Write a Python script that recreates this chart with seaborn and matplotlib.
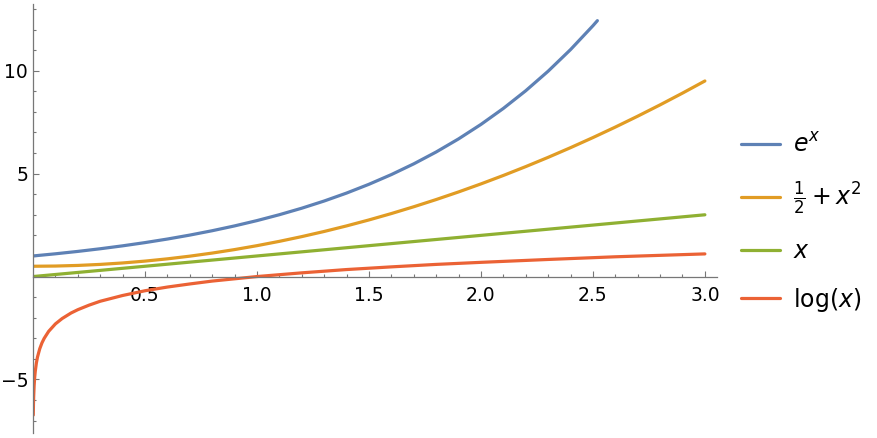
import numpy as np
import pandas as pd
import matplotlib
matplotlib.use("Agg")
import matplotlib.pyplot as plt
from matplotlib.lines import Line2D
from matplotlib.ticker import MultipleLocator, FixedLocator
import seaborn as sns

sns.set_style("white")
plt.rcParams['font.family'] = ['DejaVu Sans']
plt.rcParams['mathtext.fontset'] = 'dejavusans'

# values
exp_x = [0.0, 0.1, 0.2, 0.3, 0.4, 0.5, 0.6, 0.7, 0.8, 0.9, 1.0, 1.1, 1.2, 1.3,
         1.4, 1.5, 1.6, 1.7, 1.8, 1.9, 2.0, 2.1, 2.2, 2.3, 2.4, 2.5, 2.52]
exp_y = [1.00, 1.105, 1.221, 1.350, 1.492, 1.649, 1.822, 2.014, 2.226, 2.460,
         2.718, 3.004, 3.320, 3.669, 4.055, 4.482, 4.953, 5.474, 6.050, 6.686,
         7.389, 8.166, 9.025, 9.974, 11.023, 12.182, 12.43]

quad_x = [0.0, 0.1, 0.2, 0.3, 0.4, 0.5, 0.6, 0.7, 0.8, 0.9, 1.0, 1.1, 1.2, 1.3,
          1.4, 1.5, 1.6, 1.7, 1.8, 1.9, 2.0, 2.1, 2.2, 2.3, 2.4, 2.5, 2.6, 2.7,
          2.8, 2.9, 3.0]
quad_y = [0.50, 0.51, 0.54, 0.59, 0.66, 0.75, 0.86, 0.99, 1.14, 1.31, 1.50,
          1.71, 1.94, 2.19, 2.46, 2.75, 3.06, 3.39, 3.74, 4.11, 4.50, 4.91,
          5.34, 5.79, 6.26, 6.75, 7.26, 7.79, 8.34, 8.91, 9.50]

lin_x = [0.0, 0.5, 1.0, 1.5, 2.0, 2.5, 3.0]
lin_y = [0.0, 0.5, 1.0, 1.5, 2.0, 2.5, 3.0]

log_x = [0.0012, 0.002, 0.003, 0.005, 0.0075, 0.01, 0.015, 0.02, 0.03, 0.04,
         0.05, 0.07, 0.1, 0.13, 0.17, 0.2, 0.25, 0.3, 0.4, 0.5, 0.6, 0.7, 0.8,
         1.0, 1.2, 1.4, 1.6, 1.8, 2.0, 2.3, 2.6, 3.0]
log_y = [-6.73, -6.21, -5.81, -5.30, -4.89, -4.61, -4.20, -3.91, -3.51, -3.22,
         -3.00, -2.66, -2.30, -2.04, -1.77, -1.61, -1.39, -1.20, -0.92, -0.69,
         -0.51, -0.36, -0.22, 0.00, 0.18, 0.34, 0.47, 0.59, 0.69, 0.83, 0.96,
         1.10]

names = ['exp', 'quad', 'lin', 'log']
labels = [r'$e^x$', r'$\frac{1}{2}+x^2$', r'$x$', r'$\log(x)$']
colors = ['#5E81B5', '#E19C24', '#8FB032', '#EB6235']

frames = []
for name, xs, ys in zip(names, [exp_x, quad_x, lin_x, log_x],
                        [exp_y, quad_y, lin_y, log_y]):
    frames.append(pd.DataFrame({'x': xs, 'y': ys, 'f': name}))
df = pd.concat(frames, ignore_index=True)

fig = plt.figure(figsize=(8.78, 4.38), dpi=100)
ax = fig.add_axes([0.0376, 0.0114, 0.7790, 0.9795])

sns.lineplot(data=df, x='x', y='y', hue='f', palette=dict(zip(names, colors)),
             sort=False, estimator=None, linewidth=2.3, legend=False, ax=ax)

ax.set_xlim(0, 3.054)
ax.set_ylim(-7.6, 13.24)
ax.set_xlabel('')
ax.set_ylabel('')

for side in ['top', 'right']:
    ax.spines[side].set_visible(False)
ax.spines['left'].set_position(('data', 0))
ax.spines['bottom'].set_position(('data', 0))
for side in ['left', 'bottom']:
    ax.spines[side].set_color('#777777')
    ax.spines[side].set_linewidth(0.9)

ax.xaxis.set_major_locator(FixedLocator([0.5, 1.0, 1.5, 2.0, 2.5, 3.0]))
ax.xaxis.set_minor_locator(MultipleLocator(0.1))
ax.yaxis.set_major_locator(FixedLocator([-5, 5, 10]))
ax.yaxis.set_minor_locator(MultipleLocator(1))
ax.set_xticklabels(['0.5', '1.0', '1.5', '2.0', '2.5', '3.0'])
ax.set_yticklabels(['\u22125', '5', '10'])

ax.tick_params(which='both', bottom=True, left=True, direction='in',
               color='#777777', width=0.8, labelsize=13.5, labelcolor='black')
ax.tick_params(which='major', length=4.5)
ax.tick_params(which='minor', length=2.5)
ax.tick_params(axis='x', pad=7)
ax.tick_params(axis='y', pad=3.5)

handles = [Line2D([0], [0], color=c, lw=2.3) for c in colors]
leg = fig.legend(handles, labels, loc='center left', bbox_to_anchor=(0.844, 0.49),
                 frameon=False, fontsize=17, handlelength=1.65, handletextpad=0.55,
                 labelspacing=0.95, borderpad=0, borderaxespad=0)
for t in leg.get_texts():
    t.set_color('black')

fig.savefig('out.png', dpi=100, facecolor='white')
